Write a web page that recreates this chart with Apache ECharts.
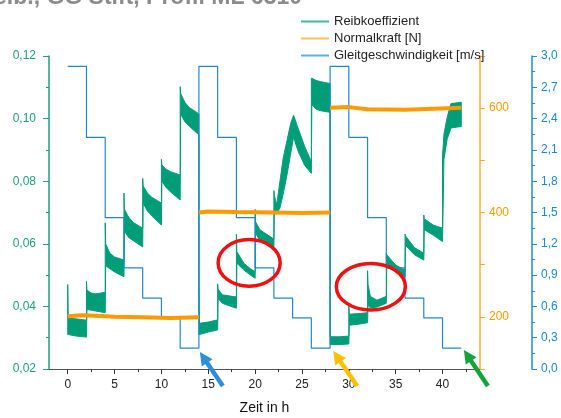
<!DOCTYPE html>
<html><head><meta charset="utf-8">
<script src="https://cdn.jsdelivr.net/npm/echarts@6/dist/echarts.min.js"></script>
<style>html,body{margin:0;padding:0;background:#fff}#c{width:561px;height:418px}</style>
</head><body><div id="c"></div>
<script>
// ---------- data ----------
const xTicks = [0, 5, 10, 15, 20, 25, 30, 35, 40];
const xMinorTicks = [2.5, 7.5, 12.5, 17.5, 22.5, 27.5, 32.5, 37.5, 42.5];

// Reibkoeffizient: noisy band, lower / upper envelope
const reibX = [
  0.0, 0.05, 1.0, 2.0,
  2.0, 2.05, 2.5, 3.0, 4.0,
  4.0, 4.05, 4.5, 5.0, 6.0,
  6.0, 6.05, 6.5, 7.0, 8.0,
  8.0, 8.05, 8.5, 9.0, 10.0,
  10.0, 10.05, 10.5, 11.0, 12.0,
  12.0, 12.05, 12.5, 13.0, 14.0,
  14.0, 14.05, 15.0, 16.0,
  16.0, 16.05, 16.5, 18.0,
  18.0, 18.05, 18.8, 19.5, 20.0,
  20.0, 20.05, 20.5, 22.0,
  22.0, 22.05, 22.3, 22.65, 23.0, 23.4, 23.8, 24.1, 24.6, 25.3, 26.0,
  26.0, 26.05, 26.5, 27.0, 28.0,
  28.0, 28.05, 29.0, 30.0,
  30.0, 30.05, 31.0, 32.0,
  32.0, 32.05, 32.3, 33.0, 34.0,
  34.0, 34.05, 35.0, 36.0,
  36.0, 36.05, 37.0, 38.0,
  38.0, 38.05, 39.0, 40.0,
  40.0, 40.15, 40.5, 40.9, 42.0
];
const reibLo = [
  0.031, 0.031, 0.0305, 0.0302,
  0.0302, 0.039, 0.0388, 0.0385, 0.038,
  0.038, 0.053, 0.052, 0.051, 0.0495,
  0.0495, 0.064, 0.062, 0.061, 0.059,
  0.059, 0.073, 0.0705, 0.0688, 0.066,
  0.066, 0.080, 0.078, 0.0765, 0.074,
  0.074, 0.1015, 0.099, 0.0975, 0.0948,
  0.031, 0.031, 0.0318, 0.0325,
  0.0325, 0.0425, 0.041, 0.0394,
  0.0394, 0.0538, 0.0516, 0.0500, 0.049,
  0.049, 0.0635, 0.061, 0.0585,
  0.0585, 0.070, 0.0695, 0.0715, 0.0760, 0.0820, 0.0890, 0.0940, 0.0895, 0.0850, 0.0825,
  0.0825, 0.1045, 0.103, 0.1025, 0.102,
  0.0278, 0.0278, 0.0278, 0.028,
  0.028, 0.034, 0.0343, 0.0348,
  0.0348, 0.0405, 0.0395, 0.0398, 0.041,
  0.041, 0.0535, 0.051, 0.0495,
  0.0495, 0.0595, 0.0565, 0.0548,
  0.0548, 0.0645, 0.0628, 0.0607,
  0.0607, 0.087, 0.0935, 0.097, 0.0975
];
const reibHi = [
  0.047, 0.0362, 0.036, 0.0356,
  0.048, 0.0452, 0.0443, 0.044, 0.0445,
  0.0667, 0.060, 0.057, 0.0558, 0.0548,
  0.0762, 0.071, 0.0685, 0.0668, 0.065,
  0.0809, 0.0785, 0.0762, 0.0748, 0.073,
  0.087, 0.0852, 0.0838, 0.083, 0.082,
  0.1102, 0.108, 0.1052, 0.1035, 0.1015,
  0.048, 0.0346, 0.035, 0.0357,
  0.0472, 0.0455, 0.0437, 0.043,
  0.0631, 0.0575, 0.0538, 0.0520, 0.0511,
  0.071, 0.067, 0.0645, 0.0615,
  0.077, 0.0755, 0.0725, 0.0800, 0.0875, 0.0930, 0.0985, 0.1011, 0.0968, 0.0910, 0.0862,
  0.1129, 0.1129, 0.1122, 0.1118, 0.1112,
  0.0303, 0.0303, 0.0303, 0.0305,
  0.041, 0.0375, 0.0377, 0.038,
  0.0514, 0.047, 0.0432, 0.042, 0.0432,
  0.057, 0.0565, 0.0532, 0.0516,
  0.0631, 0.0625, 0.0588, 0.057,
  0.0692, 0.068, 0.066, 0.065,
  0.088, 0.095, 0.1005, 0.1048, 0.1052
];

// Normalkraft [N] (null = gap between load levels)
const normX = [0, 1.5, 3, 5, 8, 11, 14, 14, 14, 15, 18, 22, 25, 28, 28, 28, 30, 32, 36, 39, 42];
const normV = [201, 203, 202, 200, 199, 198, 199, null, 400, 402, 401, 400, 399, 400, null, 601, 602, 598, 597, 599, 601];

// Gleitgeschwindigkeit [m/s] (step, value held until next time)
const speedX = [0, 2, 4, 6, 8, 10, 12, 14, 16, 18, 20, 22, 24, 26, 28, 30, 32, 34, 36, 38, 40, 42];
const speedV = [2.9, 2.22, 1.45, 0.97, 0.68, 0.49, 0.2, 2.9, 2.22, 1.45, 0.97, 0.68, 0.49, 0.2, 2.9, 2.22, 1.45, 0.97, 0.68, 0.49, 0.2, 0.2];

// annotations (data coordinates of anchors)
const circleAnchors = [[19.36, 0.0539], [32.35, 0.0463]];
const arrowTips = [[14.1, 0.0254], [28.33, 0.02575], [42.28, 0.02607]];

// ---------- chart ----------
const GREEN = '#009e78', ORANGE = '#ff9900', BLUE = '#2088d0';
const chart = echarts.init(document.getElementById('c'), null, {renderer: 'canvas'});
const comma = (v, d) => v.toFixed(d).replace('.', ',');

const gridRect = {left: 49, right: 81, top: 56, bottom: 49, containLabel: false, outerBoundsMode: 'none'};

chart.setOption({
  animation: false,
  textStyle: {fontFamily: '"Liberation Sans", Arial, sans-serif'},
  grid: [Object.assign({}, gridRect), Object.assign({}, gridRect)],
  legend: {
    orient: 'vertical', left: 296, top: 8, itemGap: 0,
    itemWidth: 28, itemHeight: 2, icon: 'rect',
    textStyle: {fontSize: 13, color: '#222', lineHeight: 17},
    data: [
      {name: 'Reibkoeffizient', itemStyle: {color: '#3dbb99'}},
      {name: 'Normalkraft [N]', itemStyle: {color: '#ffbd5c'}},
      {name: 'Gleitgeschwindigkeit [m/s]', itemStyle: {color: '#5bb0e0'}}
    ]
  },
  xAxis: [{
    type: 'value', gridIndex: 0, min: -2, max: 44,
    axisLine: {show: true, onZero: false, lineStyle: {color: '#555', width: 1.2}},
    axisTick: {show: true, customValues: xTicks, length: 5, lineStyle: {color: '#333'}},
    axisLabel: {customValues: xTicks, color: '#222', fontSize: 12, margin: 10},
    splitLine: {show: false},
    name: 'Zeit in h', nameLocation: 'middle', nameGap: 32,
    nameTextStyle: {fontSize: 14, color: '#111'}
  }, {
    type: 'value', gridIndex: 1, min: -2, max: 44,
    axisLine: {show: false, onZero: false},
    axisTick: {show: true, customValues: xMinorTicks, length: 3, lineStyle: {color: '#333'}},
    axisLabel: {show: false},
    splitLine: {show: false}
  }],
  yAxis: [{
    type: 'value', gridIndex: 0, position: 'left', min: 0.02, max: 0.12, interval: 0.02,
    axisLine: {show: true, onZero: false, lineStyle: {color: '#1f9e7f', width: 1.5}},
    axisTick: {show: true, length: 6, lineStyle: {color: '#1f9e7f'}},
    minorTick: {show: true, splitNumber: 2, length: 3, lineStyle: {color: '#1f9e7f'}},
    axisLabel: {color: '#1f9e7f', fontSize: 12, margin: 13, formatter: v => comma(v, 2)},
    splitLine: {show: false}
  }, {
    type: 'value', gridIndex: 0, position: 'right', offset: 0, min: 100, max: 700, interval: 100,
    axisLine: {show: true, onZero: false, lineStyle: {color: '#ffab33', width: 1.5}},
    axisTick: {show: true, length: 5, lineStyle: {color: '#ffab33'}},
    axisLabel: {color: '#ff9900', fontSize: 12, margin: 9,
      formatter: v => (Math.round(v) % 200 === 0 ? String(Math.round(v)) : '')},
    splitLine: {show: false}
  }, {
    type: 'value', gridIndex: 0, position: 'right', offset: 52, min: 0, max: 3, interval: 0.3,
    axisLine: {show: true, onZero: false, lineStyle: {color: '#1f8ccc', width: 1.5}},
    axisTick: {show: true, length: 5, lineStyle: {color: '#1f8ccc'}},
    minorTick: {show: true, splitNumber: 2, length: 3, lineStyle: {color: '#1f8ccc'}},
    axisLabel: {color: '#1a8ad0', fontSize: 12, margin: 9, formatter: v => comma(v, 1)},
    splitLine: {show: false}
  }, {
    type: 'value', gridIndex: 1, show: false, min: 0, max: 1
  }],
  series: [{
    type: 'custom', name: 'Reibkoeffizient', xAxisIndex: 0, yAxisIndex: 0, z: 2,
    itemStyle: {color: GREEN},
    data: reibX.map((x, i) => [x, reibLo[i], reibHi[i]]),
    encode: {x: 0, y: [1, 2]},
    renderItem: function (params, api) {
      if (params.dataIndex !== 0) return null;
      const pts = [];
      for (let i = 0; i < reibX.length; i++) pts.push(api.coord([reibX[i], reibHi[i]]));
      for (let i = reibX.length - 1; i >= 0; i--) pts.push(api.coord([reibX[i], reibLo[i]]));
      return {type: 'polygon', shape: {points: pts},
        style: {fill: GREEN, stroke: GREEN, lineWidth: 1, lineJoin: 'miter'}};
    }
  }, {
    type: 'line', name: 'Normalkraft [N]', xAxisIndex: 0, yAxisIndex: 1, z: 4,
    symbol: 'none', connectNulls: false,
    data: normX.map((x, i) => [x, normV[i] === null ? '-' : normV[i]]),
    itemStyle: {color: ORANGE},
    lineStyle: {color: ORANGE, width: 4}
  }, {
    type: 'line', name: 'Gleitgeschwindigkeit [m/s]', xAxisIndex: 0, yAxisIndex: 2, z: 3,
    symbol: 'none', step: 'end',
    data: speedX.map((x, i) => [x, speedV[i]]),
    itemStyle: {color: BLUE},
    lineStyle: {color: BLUE, width: 1.2}
  }]
});

// ---------- annotations ----------
const px = p => chart.convertToPixel({xAxisIndex: 0, yAxisIndex: 0}, p);
const graphics = [{
  type: 'text', x: 302, y: 9, z: 100,
  style: {text: 'Reib., GG Stift, Profil ML 6310', align: 'right', verticalAlign: 'bottom',
    font: 'bold 23px "Liberation Sans", Arial, sans-serif', fill: '#8c8c8c'}
}];
const circleSize = [[31, 23.3], [34.5, 23.3]];
circleAnchors.forEach((c, i) => {
  const p = px(c);
  graphics.push({type: 'ellipse', z: 100,
    shape: {cx: p[0], cy: p[1], rx: circleSize[i][0], ry: circleSize[i][1]},
    style: {fill: 'none', stroke: '#ee1111', lineWidth: 3.5}});
});
const arrowTail = [[23, 34], [24, 35], [24, 36]];
const arrowColor = ['#2d8fdb', '#ffc000', '#14a33c'];
arrowTips.forEach((t, i) => {
  const T = px(t);
  const S = [T[0] + arrowTail[i][0], T[1] + arrowTail[i][1]];
  const dx = T[0] - S[0], dy = T[1] - S[1], L = Math.hypot(dx, dy);
  const ux = dx / L, uy = dy / L, nx = -uy, ny = ux;
  const hl = 13, hw = 6.5;
  const B = [T[0] - ux * hl, T[1] - uy * hl];
  graphics.push({type: 'line', z: 100,
    shape: {x1: S[0], y1: S[1], x2: B[0] + ux * 2, y2: B[1] + uy * 2},
    style: {stroke: arrowColor[i], lineWidth: 4.5}});
  graphics.push({type: 'polygon', z: 100,
    shape: {points: [T, [B[0] + nx * hw, B[1] + ny * hw], [B[0] - nx * hw, B[1] - ny * hw]]},
    style: {fill: arrowColor[i]}});
});
chart.setOption({graphic: graphics});
</script>
</body></html>
